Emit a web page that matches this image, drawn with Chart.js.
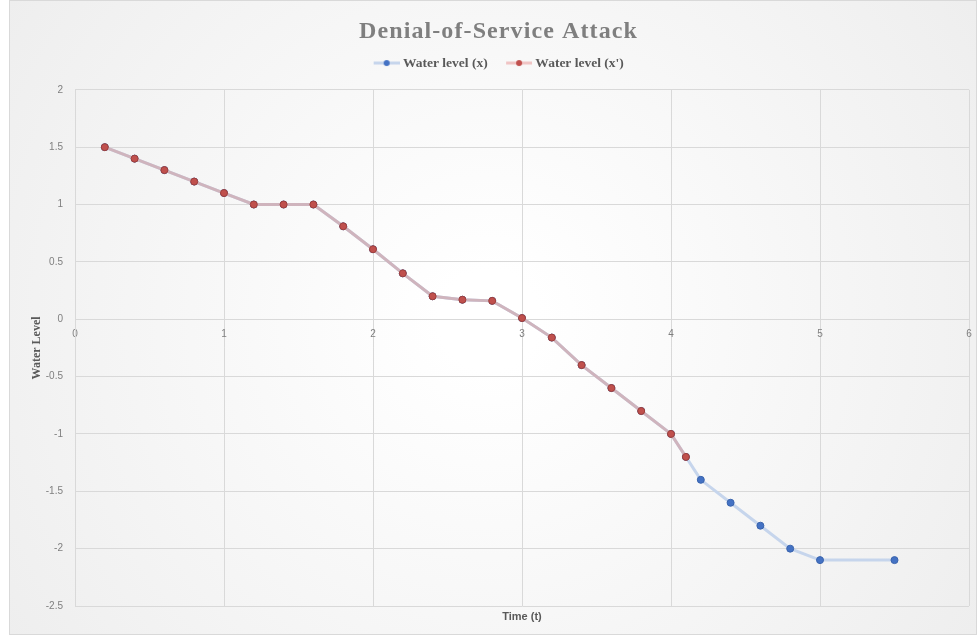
<!DOCTYPE html>
<html>
<head>
<meta charset="utf-8">
<script src="https://cdn.jsdelivr.net/npm/chart.js@4.4.0/dist/chart.umd.min.js"></script>
<style>
  html, body { margin: 0; padding: 0; background: #ffffff; }
  #wrap { width: 978px; height: 640px; position: relative; }
</style>
</head>
<body>
<div id="wrap"><canvas id="c" width="978" height="640"></canvas></div>
<script>
// ---- data ----
const timeX = [0.2, 0.4, 0.6, 0.8, 1.0, 1.2, 1.4, 1.6, 1.8, 2.0, 2.2, 2.4, 2.6, 2.8, 3.0, 3.2, 3.4, 3.6, 3.8, 4.0, 4.1, 4.2, 4.4, 4.6, 4.8, 5.0, 5.5];
const waterLevelX = [1.5, 1.4, 1.3, 1.2, 1.1, 1.0, 1.0, 1.0, 0.81, 0.61, 0.4, 0.2, 0.17, 0.16, 0.01, -0.16, -0.4, -0.6, -0.8, -1.0, -1.2, -1.4, -1.6, -1.8, -2.0, -2.1, -2.1];
const timeXPrime = [0.2, 0.4, 0.6, 0.8, 1.0, 1.2, 1.4, 1.6, 1.8, 2.0, 2.2, 2.4, 2.6, 2.8, 3.0, 3.2, 3.4, 3.6, 3.8, 4.0, 4.1];
const waterLevelXPrime = [1.5, 1.4, 1.3, 1.2, 1.1, 1.0, 1.0, 1.0, 0.81, 0.61, 0.4, 0.2, 0.17, 0.16, 0.01, -0.16, -0.4, -0.6, -0.8, -1.0, -1.2];
const seriesNames = ['Water level (x)', "Water level (x')"];
const chartTitle = 'Denial-of-Service Attack';
const xTitle = 'Time (t)';
const yTitle = 'Water Level';

function legendImage(lineColor, dotColor) {
  const cv = document.createElement('canvas');
  cv.width = 38; cv.height = 8;
  const g = cv.getContext('2d');
  g.strokeStyle = lineColor; g.lineWidth = 3;
  g.beginPath(); g.moveTo(12, 4); g.lineTo(38, 4); g.stroke();
  g.fillStyle = dotColor;
  g.beginPath(); g.arc(25, 4, 3, 0, Math.PI * 2); g.fill();
  return cv;
}
const imgBlue = legendImage('#c6d5ec', '#4472c4');
const imgRed = legendImage('#f0c4c4', '#c0504d');

const bgPlugin = {
  id: 'bg',
  beforeDraw(chart) {
    const ctx = chart.ctx;
    const w = chart.width, h = chart.height;
    ctx.save();
    ctx.fillStyle = '#ffffff';
    ctx.fillRect(0, 0, w, h);
    const grd = ctx.createRadialGradient(w / 2, h / 2, 50, w / 2, h / 2, 640);
    grd.addColorStop(0, '#ffffff');
    grd.addColorStop(1, '#ececec');
    ctx.fillStyle = grd;
    ctx.fillRect(9, 0, 968, 635);
    ctx.strokeStyle = '#d9d9d9';
    ctx.lineWidth = 1;
    ctx.strokeRect(9.5, 0.5, 967, 634);
    ctx.restore();
  },
  afterDraw(chart) {
    const ctx = chart.ctx;
    const a = chart.chartArea;
    ctx.save();
    ctx.fillStyle = '#595959';
    ctx.font = 'bold 11px "Liberation Sans", Arial, sans-serif';
    ctx.textAlign = 'center';
    ctx.textBaseline = 'middle';
    ctx.fillText(xTitle, (a.left + a.right) / 2, 617);
    ctx.restore();
  }
};

const ctx = document.getElementById('c').getContext('2d');
const chart = new Chart(ctx, {
  type: 'line',
  plugins: [bgPlugin],
  data: {
    datasets: [
      {
        label: seriesNames[0],
        data: timeX.map((t, i) => ({ x: t, y: waterLevelX[i] })),
        borderColor: '#c6d5ec',
        backgroundColor: '#4472c4',
        pointBackgroundColor: '#4472c4',
        pointBorderColor: '#3a64ad',
        pointBorderWidth: 1,
        pointRadius: 3.5,
        borderWidth: 3,
        tension: 0,
        order: 1,
        pointStyle: 'circle'
      },
      {
        label: seriesNames[1],
        data: timeXPrime.map((t, i) => ({ x: t, y: waterLevelXPrime[i] })),
        borderColor: '#cfb4bd',
        backgroundColor: '#c0504d',
        pointBackgroundColor: '#c0504d',
        pointBorderColor: '#9e3f3c',
        pointBorderWidth: 1,
        pointRadius: 3.5,
        borderWidth: 3,
        tension: 0,
        order: 0,
        pointStyle: 'circle'
      }
    ]
  },
  options: {
    responsive: false,
    animation: false,
    devicePixelRatio: 1,
    layout: { padding: { left: 28, right: 9, top: 0, bottom: 34 } },
    plugins: {
      title: {
        display: true,
        text: chartTitle,
        color: '#7f7f7f',
        font: { family: '"Liberation Serif", "Times New Roman", serif', size: 24, weight: 'bold' },
        padding: { top: 17.5, bottom: 0 }
      },
      legend: {
        display: true,
        position: 'top',
        labels: {
          usePointStyle: true,
          pointStyleWidth: 31,
          color: '#595959',
          padding: 10,
          font: { family: '"Liberation Serif", "Times New Roman", serif', size: 13.5, weight: 'bold' },
          sort: (a, b) => a.datasetIndex - b.datasetIndex,
          generateLabels(chart) {
            return chart.data.datasets.map((ds, i) => ({
              text: ds.label,
              datasetIndex: i,
              pointStyle: i === 0 ? imgBlue : imgRed,
              fillStyle: ds.backgroundColor,
              strokeStyle: ds.borderColor,
              lineWidth: 0,
              hidden: false,
              fontColor: '#595959'
            }));
          }
        }
      },
      tooltip: { enabled: false }
    },
    scales: {
      x: {
        type: 'linear',
        position: { y: 0 },
        min: 0,
        max: 6,
        afterFit(scale) { scale.paddingLeft = 0; scale.paddingRight = 0; },
        ticks: {
          stepSize: 1,
          color: '#7f7f7f',
          padding: 9,
          font: { family: '"Liberation Sans", Arial, sans-serif', size: 10 }
        },
        grid: { color: '#d9d9d9', lineWidth: 1, drawTicks: false },
        border: { color: '#d9d9d9' }
      },
      spacer: {
        type: 'linear',
        position: 'top',
        axis: 'x',
        display: true,
        min: 0,
        max: 6,
        afterFit(scale) { scale.height = 10; scale.paddingLeft = 0; scale.paddingRight = 0; },
        ticks: { display: false },
        grid: { display: false },
        border: { display: false }
      },
      y: {
        type: 'linear',
        min: -2.5,
        max: 2,
        afterFit(scale) { scale.width = 47; scale.paddingTop = 0; scale.paddingBottom = 0; },
        ticks: {
          stepSize: 0.5,
          color: '#7f7f7f',
          padding: 12,
          callback: (v) => String(v),
          font: { family: '"Liberation Sans", Arial, sans-serif', size: 10 }
        },
        grid: { color: '#d9d9d9', lineWidth: 1, drawTicks: false },
        border: { color: '#d9d9d9' },
        title: {
          display: true,
          text: yTitle,
          color: '#595959',
          font: { family: '"Liberation Serif", "Times New Roman", serif', size: 12, weight: 'bold' },
          padding: { top: 2, bottom: 0 }
        }
      }
    }
  }
});

// Wider letter spacing for the title, and a small horizontal nudge of the legend, as in the original
if (chart.titleBlock) {
  const tb = chart.titleBlock;
  const origDraw = tb.draw.bind(tb);
  tb.draw = function (area) {
    const c = this.ctx;
    c.save();
    c.letterSpacing = '1.1px';
    origDraw(area);
    c.restore();
  };
}
if (chart.legend) {
  const lg = chart.legend;
  const origLegendDraw = lg.draw.bind(lg);
  lg.draw = function (area) {
    const c = this.ctx;
    c.save();
    c.translate(-4, 0);
    origLegendDraw(area);
    c.restore();
  };
}
chart.draw();
</script>
</body>
</html>
